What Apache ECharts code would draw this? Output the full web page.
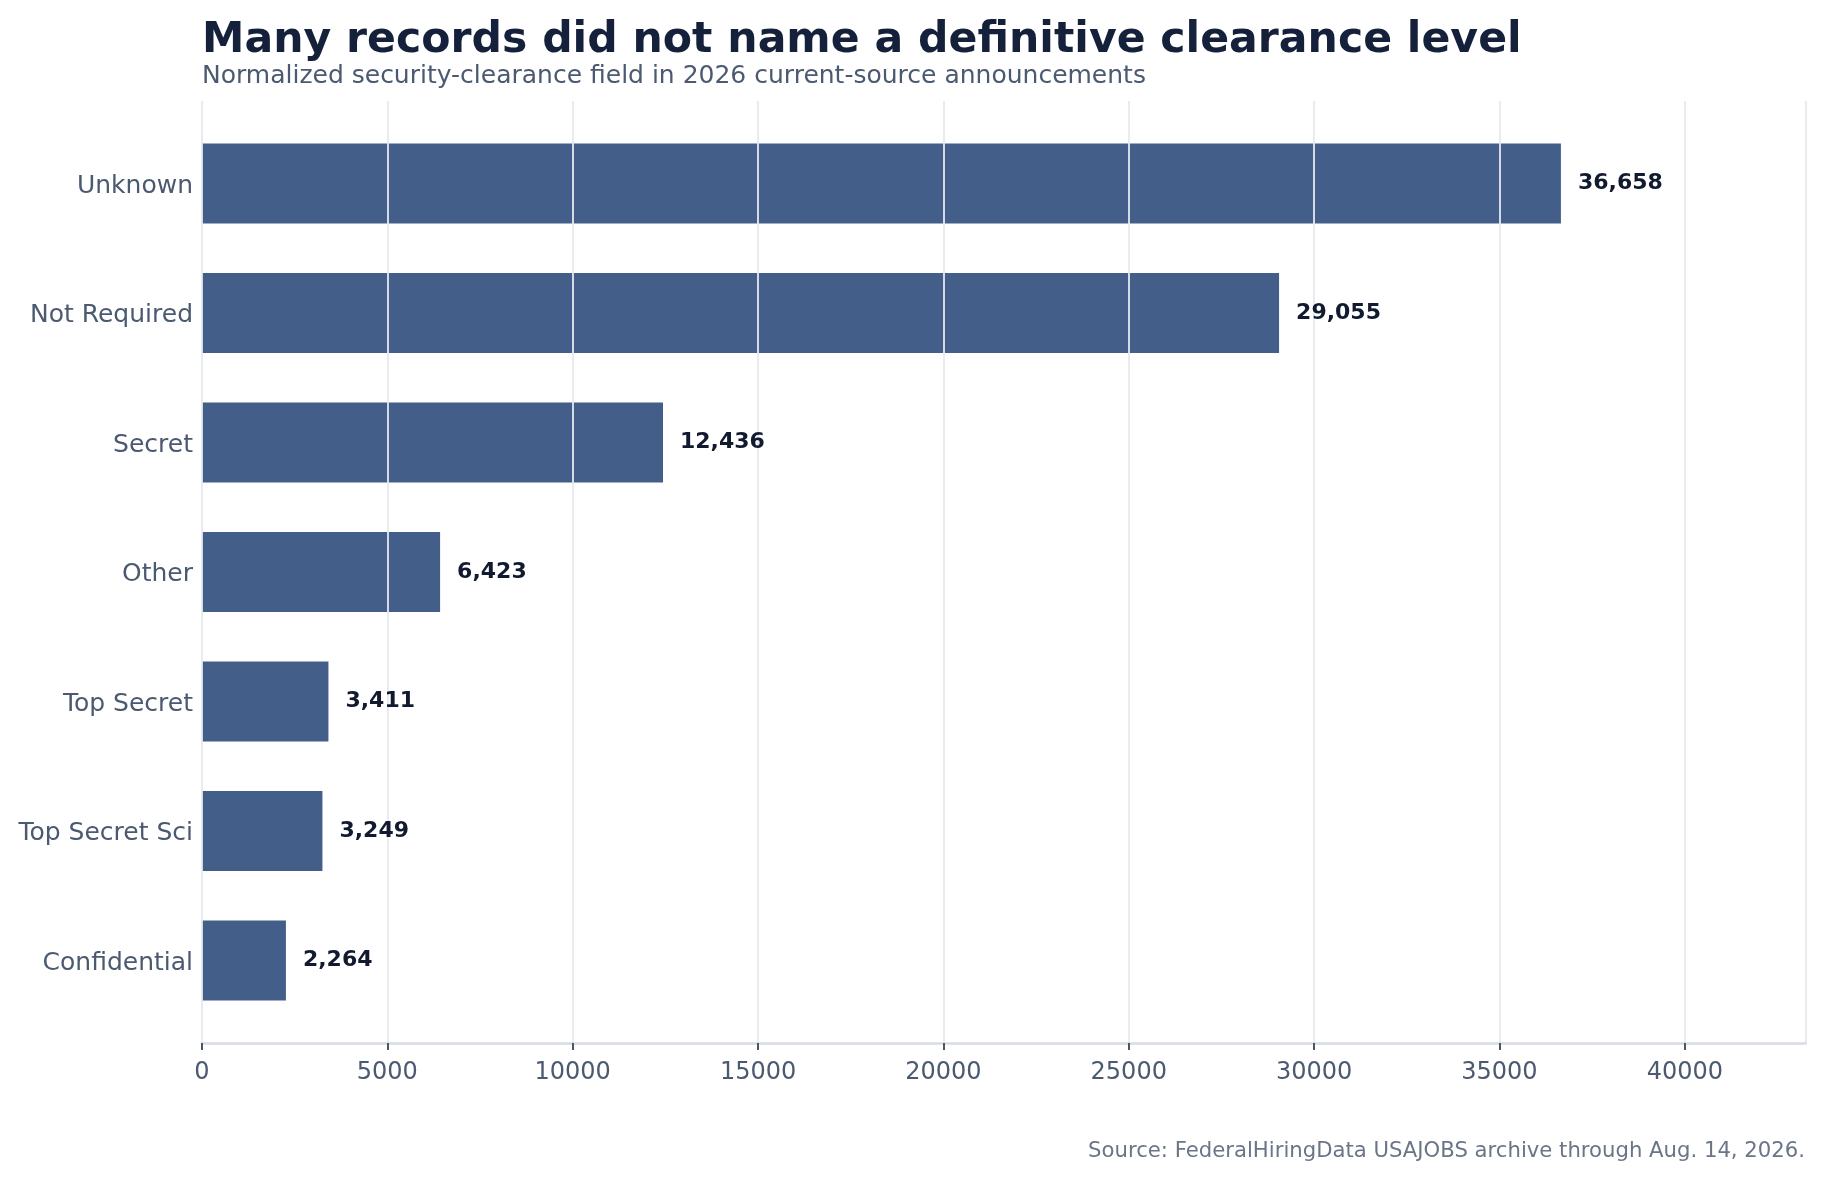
<!DOCTYPE html>
<html>
<head>
<meta charset="utf-8">
<script src="https://cdn.jsdelivr.net/npm/echarts@6/dist/echarts.min.js"></script>
<style>
  html, body { margin: 0; padding: 0; background: #ffffff; }
  #chart { width: 1823px; height: 1178px; }
</style>
</head>
<body>
<div id="chart"></div>
<script>
// Data
const categories = ['Unknown', 'Not Required', 'Secret', 'Other', 'Top Secret', 'Top Secret Sci', 'Confidential'];
const counts = [36658, 29055, 12436, 6423, 3411, 3249, 2264];
const xTicks = [0, 5000, 10000, 15000, 20000, 25000, 30000, 35000, 40000];

const titleText = 'Many records did not name a definitive clearance level';
const subtitleText = 'Normalized security-clearance field in 2026 current-source announcements';
const sourceText = 'Source: FederalHiringData USAJOBS archive through Aug. 14, 2026.';

const FONT = 'DejaVu Sans';
const xMax = 43256;

const chart = echarts.init(document.getElementById('chart'), null, { renderer: 'canvas' });

const option = {
    backgroundColor: '#ffffff',
    animation: false,
    graphic: [
        {
            type: 'text', left: 202, top: 19,
            style: { text: titleText, font: 'bold 42.6px "' + FONT + '"', fill: '#15213a' }
        },
        {
            type: 'text', left: 202, top: 63.5,
            style: { text: subtitleText, font: '25px "' + FONT + '"', fill: '#4b5a70' }
        },
        {
            type: 'text', right: 18, top: 1141,
            style: { text: sourceText, font: '21.2px "' + FONT + '"', fill: '#6b7588', align: 'right' }
        }
    ],
    grid: [
        // frame for the value axis, gridlines and axis line
        { left: 202, right: 17.5, top: 101, bottom: 135 },
        // inner area where the bars sit (category padding like the reference)
        { left: 202, right: 17.5, top: 118.75, bottom: 152.75 }
    ],
    xAxis: [
        {
            type: 'value', gridIndex: 0, min: 0, max: xMax, interval: 5000, z: 5,
            axisLine: { show: true, lineStyle: { color: '#d8dce4', width: 2.5 } },
            axisTick: { show: true, length: 7, lineStyle: { color: '#4b5563', width: 2 } },
            axisLabel: {
                color: '#4b5a70', fontFamily: FONT, fontSize: 24, margin: 18,
                showMaxLabel: false,
                formatter: function (v) { return xTicks.indexOf(v) >= 0 ? String(v) : ''; }
            },
            splitLine: { show: true, lineStyle: { color: '#e6e9ef', width: 1.8 } }
        },
        {
            type: 'value', gridIndex: 1, min: 0, max: xMax, interval: 5000, show: false,
            splitLine: { show: false }
        }
    ],
    yAxis: [
        {
            type: 'category', gridIndex: 0, data: categories, inverse: true, show: false
        },
        {
            type: 'category', gridIndex: 1, data: categories, inverse: true,
            axisLine: { show: false },
            axisTick: { show: false },
            splitLine: { show: false },
            axisLabel: {
                margin: 9,
                formatter: function (v) { return '{c|' + v + '}'; },
                rich: {
                    c: { color: '#4b5a70', fontFamily: FONT, fontSize: 25, padding: [5, 0, 0, 0] }
                }
            }
        }
    ],
    series: [
        {
            type: 'bar',
            xAxisIndex: 1,
            yAxisIndex: 1,
            data: counts,
            barWidth: 80,
            z: 2,
            itemStyle: { color: '#435e89' }
        },
        {
            // label layer, drawn above the gridlines
            type: 'bar',
            xAxisIndex: 1,
            yAxisIndex: 1,
            data: counts,
            barWidth: 80,
            barGap: '-100%',
            z: 10,
            silent: true,
            itemStyle: { color: 'rgba(0,0,0,0)' },
            label: {
                show: true,
                position: 'right',
                distance: 17,
                color: '#111a2e',
                fontFamily: FONT,
                fontWeight: 'bold',
                fontSize: 22,
                padding: [3, 0, 0, 0],
                formatter: function (p) { return p.value.toLocaleString('en-US'); }
            }
        }
    ]
};

chart.setOption(option);
</script>
</body>
</html>
